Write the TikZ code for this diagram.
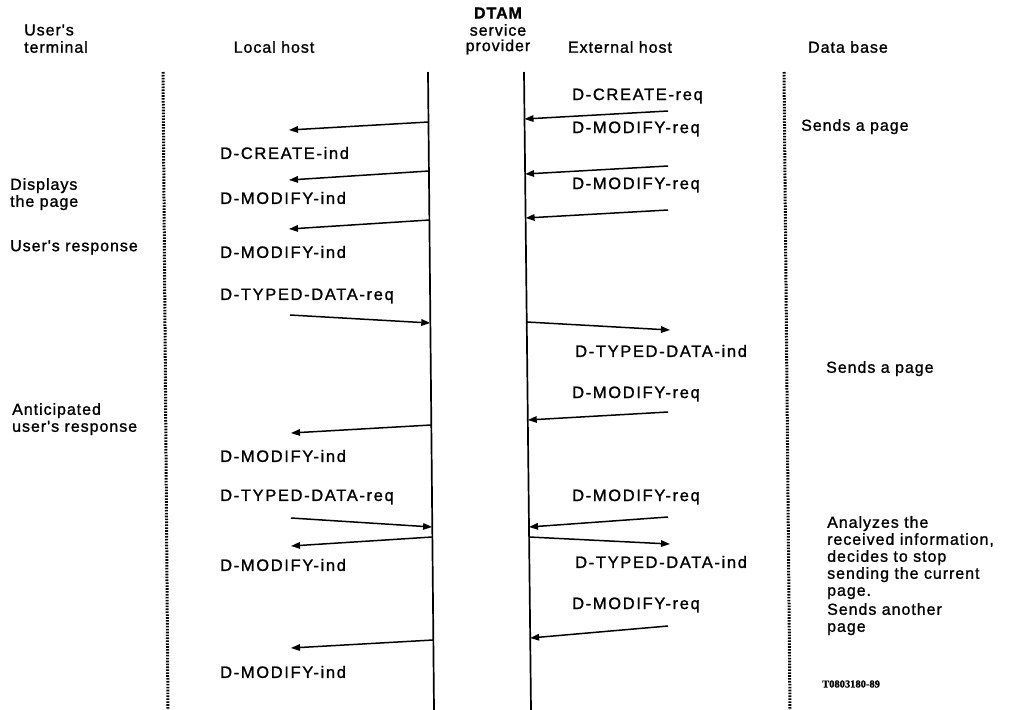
\documentclass[tikz,border=0pt]{standalone}
\usepackage{fontspec}
\setmainfont{Liberation Sans}
\newfontfamily\labfont[LetterSpace=10,FakeBold=1.2]{Liberation Sans}
\newfontfamily\txtfont[LetterSpace=6,FakeBold=1.2]{Liberation Sans}
\newfontfamily\tagfont[FakeBold=1]{Liberation Serif}
\usetikzlibrary{arrows.meta}
\tikzset{
  lbl/.style={font=\labfont\fontsize{16.5}{17}\selectfont, inner sep=0pt, anchor=west},
  hdr/.style={font=\txtfont\fontsize{16}{17}\selectfont, inner sep=0pt, align=center},
  note/.style={font=\txtfont\fontsize{16}{17}\selectfont, inner sep=0pt, anchor=north west, align=left},
  life/.style={line width=1.7pt},
  dotline/.style={line width=3pt, dash pattern=on 1.6pt off 1.3pt},
  msg/.style={line width=1.5pt, -{Triangle[length=9pt,width=6.5pt]}}
}
\begin{document}
\begin{tikzpicture}[x=1pt,y=-1pt]
\useasboundingbox (0,0) rectangle (1013,710);
% headers
\node[hdr, anchor=west] (hU1) at (24,30) {User's};
\node[hdr, anchor=west] (hU2) at (24,47) {terminal};
\node[hdr] (hL) at (274,47) {Local host};
\node[hdr] (hD1) at (498,13) {\bfseries DTAM};
\node[hdr] (hD2) at (498,30) {service};
\node[hdr] (hD3) at (498,47) {provider};
\node[hdr] (hE) at (620,47) {External host};
\node[hdr] (hB) at (848,47) {Data base};
% lifelines
\coordinate (ut) at (163,72); \coordinate (ub) at (168,710);
\coordinate (lt) at (428,72); \coordinate (lb) at (434,710);
\coordinate (et) at (524,72); \coordinate (eb) at (531,710);
\coordinate (dt) at (784,72); \coordinate (db) at (790,710);
\draw[dotline] (ut) -- (ub);
\draw[life] (lt) -- (lb);
\draw[life] (et) -- (eb);
\draw[dotline] (dt) -- (db);
% message endpoints
\coordinate (r1a) at (668,111); \coordinate (r1b) at (524.5,119);
\coordinate (l1a) at (428.5,122); \coordinate (l1b) at (289,130);
\coordinate (r2a) at (668,166); \coordinate (r2b) at (525.1,174);
\coordinate (l2a) at (429.0,171); \coordinate (l2b) at (289,180);
\coordinate (r3a) at (668,210); \coordinate (r3b) at (525.6,218);
\coordinate (l3a) at (429.4,220); \coordinate (l3b) at (289,229);
\coordinate (t1a) at (290,315); \coordinate (t1b) at (430.3,323);
\coordinate (o1a) at (526.8,322); \coordinate (o1b) at (670,330);
\coordinate (r4a) at (668,412); \coordinate (r4b) at (527.8,420);
\coordinate (l4a) at (431.2,425); \coordinate (l4b) at (291,433);
\coordinate (t2a) at (291,518); \coordinate (t2b) at (432.1,527);
\coordinate (r5a) at (668,517); \coordinate (r5b) at (529.0,527);
\coordinate (l5a) at (432.3,537); \coordinate (l5b) at (291,546);
\coordinate (o2a) at (529.1,537); \coordinate (o2b) at (670,544);
\coordinate (r6a) at (668,626); \coordinate (r6b) at (530.1,638);
\coordinate (l6a) at (433.2,640); \coordinate (l6b) at (291,648);
\foreach \a/\b in {r1a/r1b,l1a/l1b,r2a/r2b,l2a/l2b,r3a/r3b,l3a/l3b,t1a/t1b,o1a/o1b,r4a/r4b,l4a/l4b,t2a/t2b,r5a/r5b,l5a/l5b,o2a/o2b,r6a/r6b,l6a/l6b}
  \draw[msg] (\a) -- (\b);
% message labels
\node[lbl] (m1) at (572,96) {D-CREATE-req};
\node[lbl] (m2) at (572,129) {D-MODIFY-req};
\node[lbl] (m3) at (220,153) {D-CREATE-ind};
\node[lbl] (m4) at (572,185) {D-MODIFY-req};
\node[lbl] (m5) at (220,198) {D-MODIFY-ind};
\node[lbl] (m6) at (220,252) {D-MODIFY-ind};
\node[lbl] (m7) at (220,296) {D-TYPED-DATA-req};
\node[lbl] (m8) at (575,351) {D-TYPED-DATA-ind};
\node[lbl] (m9) at (572,394) {D-MODIFY-req};
\node[lbl] (m10) at (220,456) {D-MODIFY-ind};
\node[lbl] (m11) at (220,497) {D-TYPED-DATA-req};
\node[lbl] (m12) at (572,497) {D-MODIFY-req};
\node[lbl] (m13) at (220,565) {D-MODIFY-ind};
\node[lbl] (m14) at (575,562) {D-TYPED-DATA-ind};
\node[lbl] (m15) at (572,605) {D-MODIFY-req};
\node[lbl] (m16) at (220,672) {D-MODIFY-ind};
% left notes
\node[note] (n1) at (10,178) {Displays\\the page};
\node[note] (n2) at (10,240) {User's response};
\node[note] (n3) at (12,403) {Anticipated\\user's response};
% right notes
\node[note] (n4) at (801,119) {Sends a page};
\node[note] (n5) at (826,361) {Sends a page};
\node[note] (n6) at (827,516) {Analyzes the\\received information,\\decides to stop\\sending the current\\page.};
\node[note] (n7) at (827,603) {Sends another\\page};
\node[inner sep=0pt, anchor=west, font=\tagfont\bfseries\fontsize{10.5}{11}\selectfont] (tag) at (822,684) {T0803180-89};
\end{tikzpicture}
\end{document}
